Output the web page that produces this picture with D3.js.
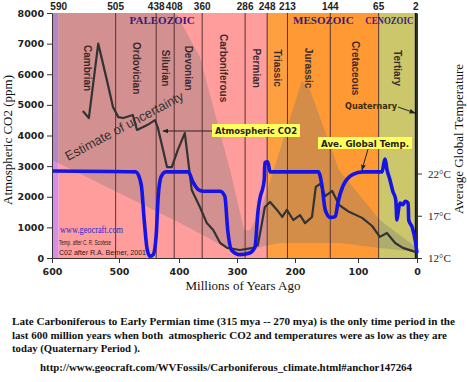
<!DOCTYPE html>
<html>
<head>
<meta charset="utf-8">
<script src="https://cdn.jsdelivr.net/npm/d3@7"></script>
<style>
  body { margin: 0; background: #fff; }
  svg { display: block; }
</style>
</head>
<body>
<svg id="chart" width="467" height="382"></svg>
<script>

// ---- data ----
var ageTicks = [600, 500, 400, 300, 200, 100, 0];
var co2Ticks = [0, 1000, 2000, 3000, 4000, 5000, 6000, 7000, 8000];
var tempTicks = [12, 17, 22];

var boundaries = [590, 505, 438, 408, 360, 286, 248, 213, 144, 65, 2];

var periods = ["Cambrian", "Ordovician", "Silurian", "Devonian", "Carboniferous",
               "Permian", "Triassic", "Jurassic", "Cretaceous", "Tertiary"];
var periodStart = [590, 505, 438, 408, 360, 286, 248, 213, 144, 65];
var periodEnd   = [505, 438, 408, 360, 286, 248, 213, 144, 65, 2];
var periodColor = ["#ff9c9c", "#ff9c9c", "#ff9c9c", "#ff9c9c", "#ff9c9c",
                   "#ff9c9c", "#ffa040", "#ff9933", "#ff9933", "#cbc76a"];

var eras = ["PALEOZOIC", "MESOZOIC", "CENOZOIC"];
var eraLabelAge = [428, 155, 47];

// atmospheric CO2 (ppm), Berner
var co2Age = [554, 545, 531, 518, 509, 501, 493, 477, 470, 453, 440, 435, 420, 412, 402, 390,
              378, 364, 352, 341, 329, 317, 295, 272, 264, 257, 252, 243, 231, 222, 214, 203,
              192, 184, 173, 167, 160, 152, 141, 130, 116, 93, 76, 63, 51, 37, 24, 3];
var co2Ppm = [4800, 4570, 7000, 5800, 4930, 4600, 4570, 4670, 4180, 4340, 4500, 4240, 2970, 2970, 3530, 4080,
              2220, 1665, 1140, 915, 490, 330, 260, 330, 425, 1140, 1665, 1830, 1570, 1340, 1570, 1240,
              1400, 1140, 1340, 2320, 2420, 2020, 2190, 1730, 1530, 1310, 1045, 690, 815, 490, 330, 200];

// estimate of uncertainty band
var bandAge  = [600, 410, 403, 364, 312, 300, 288, 278, 259, 226, 189, 176, 130, 63, 0];
var bandHigh = [8000, 8000, 7930, 6560, 2870, 1900, 915, 900, 1570, 3530, 5800, 5480, 2870, 1240, 330];
var bandLow  = [3200, 1260, 1190, 800, 260, 160, 170, 200, 360, 490, 490, 490, 490, 330, 200];

// average global temperature (deg C), Scotese
var tempAge = [600, 472, 463, 458, 453, 448, 443, 438, 435, 430, 422, 384, 376, 367, 359, 329,
               321, 316, 309, 295, 278, 269, 264, 259, 257, 253, 252, 247, 243, 163, 157, 152,
               144, 136, 132, 124, 108, 92, 59, 56, 54, 51, 46, 41, 36, 34, 32, 29, 24, 20,
               15, 14, 8, 3, 0];
var tempC = [22.3, 22.2, 20.7, 16.5, 13, 12.2, 12.4, 14.7, 18.9, 21.6, 22.2, 22.2, 21, 20.1, 19.9, 19.9,
             19.3, 15.3, 12.9, 12.4, 12.6, 13.3, 17.4, 19.5, 19.9, 21.3, 23.3, 23.4, 22.2, 22.2, 20.5, 17.7,
             16.8, 16.9, 18.5, 20.5, 21.9, 22.2, 22.2, 23.3, 23.7, 22.5, 21.3, 19.9, 18.9, 16.5, 17.4, 18.5, 18.3, 18.7,
             18.5, 16.5, 15.6, 14.1, 12.6];

var caption = [
  "Late Carboniferous to Early Permian time (315 mya -- 270 mya) is the only time period in the",
  "last 600 million years when both  atmospheric CO2 and temperatures were as low as they are",
  "today (Quaternary Period )."
];
var sourceUrl = "http://www.geocraft.com/WVFossils/Carboniferous_climate.html#anchor147264";

// ---- scales ----
var svg = d3.select("#chart");

// the original time axis is not quite even, so piecewise
var x = d3.scaleLinear()
  .domain(ageTicks)
  .range([52, 119, 179, 237, 295, 358, 417]);
var y = d3.scaleLinear().domain([0, 8000]).range([258, 13]);
var yT = d3.scaleLinear().domain([12, 41]).range([258, 13]);

var sans = "DejaVu Sans, Verdana, sans-serif";
var serif = "Liberation Serif, Times New Roman, serif";

svg.append("defs").append("clipPath").attr("id", "plot")
  .append("rect")
    .attr("x", x(600)).attr("y", y(8000))
    .attr("width", x(0) - x(600)).attr("height", y(0) - y(8000));

svg.select("defs").append("marker")
    .attr("id", "arrow")
    .attr("viewBox", "0 0 10 10")
    .attr("refX", 9).attr("refY", 5)
    .attr("markerWidth", 6).attr("markerHeight", 6)
    .attr("orient", "auto")
  .append("path")
    .attr("d", "M0,1 L10,5 L0,9 z")
    .attr("fill", "#222");

// ---- background time bands ----
var bg = svg.append("g").attr("clip-path", "url(#plot)");

bg.append("rect")
  .attr("x", x(600)).attr("y", y(8000))
  .attr("width", x(590) - x(600)).attr("height", y(0) - y(8000))
  .attr("fill", "#d98ee6");

bg.selectAll("rect.period")
  .data(periods)
  .enter()
    .append("rect")
    .attr("class", "period")
    .attr("x", function(d, i) { return x(periodStart[i]); })
    .attr("y", y(8000))
    .attr("width", function(d, i) { return x(periodEnd[i]) - x(periodStart[i]) + 0.5; })
    .attr("height", y(0) - y(8000))
    .attr("fill", function(d, i) { return periodColor[i]; });

bg.append("rect")
  .attr("x", x(2)).attr("y", y(8000))
  .attr("width", x(0) - x(2)).attr("height", y(0) - y(8000))
  .attr("fill", "#cbc76a");

var band = d3.area()
  .x(function(d, i) { return x(bandAge[i]); })
  .y0(function(d, i) { return y(bandLow[i]); })
  .y1(function(d, i) { return y(bandHigh[i]); });

bg.append("path")
  .attr("d", band(bandAge))
  .attr("fill", "#777")
  .attr("fill-opacity", 0.32);

bg.selectAll("line.bound")
  .data(boundaries.slice(1, -1))
  .enter()
    .append("line")
    .attr("class", "bound")
    .attr("x1", function(d) { return x(d); })
    .attr("x2", function(d) { return x(d); })
    .attr("y1", y(8000)).attr("y2", y(0))
    .attr("stroke", "#5a3030")
    .attr("stroke-width", 1);

bg.append("line")
  .attr("x1", x(2)).attr("x2", x(2))
  .attr("y1", y(8000)).attr("y2", y(0))
  .attr("stroke", "#111")
  .attr("stroke-width", 2);

// ---- period & era labels ----
svg.append("g").selectAll("text")
  .data(periods)
  .enter()
    .append("text")
    .attr("transform", function(d, i) {
      return "translate(" + x((periodStart[i] + periodEnd[i]) / 2) + "," + y(6200) + ") rotate(90)";
    })
    .attr("text-anchor", "middle")
    .attr("dy", "0.35em")
    .style("font", "bold 10px Liberation Sans, Arial, sans-serif")
    .attr("fill", "#3b2a2a")
    .text(function(d) { return d; });

svg.append("g").selectAll("text")
  .data(eras)
  .enter()
    .append("text")
    .attr("x", function(d, i) { return x(eraLabelAge[i]); })
    .attr("y", 24)
    .attr("text-anchor", "middle")
    .style("font", "bold 11px " + serif)
    .attr("fill", "#3a1a78")
    .attr("textLength", function(d, i) { return i === 2 ? 48 : null; })
    .attr("lengthAdjust", "spacingAndGlyphs")
    .text(function(d) { return d; });

svg.append("g").selectAll("text")
  .data(boundaries)
  .enter()
    .append("text")
    .attr("x", function(d) { return x(d); })
    .attr("y", 10)
    .attr("text-anchor", "middle")
    .style("font", "bold 10px Liberation Sans, Arial, sans-serif")
    .attr("fill", "#222")
    .text(function(d) { return d; });

svg.append("text")
  .attr("transform", "translate(68,161) rotate(-28)")
  .style("font", "13px Liberation Sans, Arial, sans-serif")
  .attr("fill", "#333")
  .text("Estimate of uncertainty");

// ---- curves ----
var co2Line = d3.line()
  .x(function(d, i) { return x(co2Age[i]); })
  .y(function(d) { return y(d); });

svg.append("path")
  .attr("d", co2Line(co2Ppm))
  .attr("fill", "none")
  .attr("stroke", "#333")
  .attr("stroke-width", 2.2)
  .attr("stroke-linejoin", "round");

var tempLine = d3.line()
  .x(function(d, i) { return x(tempAge[i]); })
  .y(function(d) { return yT(d); })
  .curve(d3.curveMonotoneX);

svg.append("path")
  .attr("d", tempLine(tempC))
  .attr("fill", "none")
  .attr("stroke", "#1414e6")
  .attr("stroke-width", 3.6)
  .attr("stroke-linejoin", "round");

// ---- callouts ----
svg.append("rect")
  .attr("x", 212).attr("y", 124).attr("width", 88).attr("height", 13)
  .attr("fill", "#ffff5e");
svg.append("text")
  .attr("x", 256).attr("y", 134)
  .attr("text-anchor", "middle")
  .style("font", "bold 9.5px " + sans)
  .attr("fill", "#222")
  .attr("textLength", 82).attr("lengthAdjust", "spacingAndGlyphs")
  .text("Atmospheric CO2");
svg.append("line")
  .attr("x1", 212).attr("y1", 131).attr("x2", 163).attr("y2", 131)
  .attr("stroke", "#222").attr("stroke-width", 1)
  .attr("marker-end", "url(#arrow)");

svg.append("rect")
  .attr("x", 318).attr("y", 137).attr("width", 94).attr("height", 12)
  .attr("fill", "#ffff5e");
svg.append("text")
  .attr("x", 365).attr("y", 146.5)
  .attr("text-anchor", "middle")
  .style("font", "bold 9.5px " + sans)
  .attr("fill", "#222")
  .attr("textLength", 88).attr("lengthAdjust", "spacingAndGlyphs")
  .text("Ave. Global Temp.");
svg.append("line")
  .attr("x1", 368).attr("y1", 149).attr("x2", 362).attr("y2", 170)
  .attr("stroke", "#222").attr("stroke-width", 1)
  .attr("marker-end", "url(#arrow)");

svg.append("text")
  .attr("x", 345).attr("y", 109)
  .style("font", "bold 9.5px " + sans)
  .attr("fill", "#3a2a10")
  .attr("textLength", 52).attr("lengthAdjust", "spacingAndGlyphs")
  .text("Quaternary");
svg.append("line")
  .attr("x1", 398).attr("y1", 107).attr("x2", 415).attr("y2", 113)
  .attr("stroke", "#222").attr("stroke-width", 1)
  .attr("marker-end", "url(#arrow)");

svg.append("text")
  .attr("x", 60).attr("y", 233)
  .style("font", "10px " + serif)
  .attr("fill", "#2a2ad0")
  .attr("textLength", 63).attr("lengthAdjust", "spacingAndGlyphs")
  .text("www.geocraft.com");
svg.append("text")
  .attr("x", 59).attr("y", 245)
  .style("font", "7.5px Liberation Sans, Arial, sans-serif")
  .attr("fill", "#222")
  .attr("textLength", 52).attr("lengthAdjust", "spacingAndGlyphs")
  .text("Temp. after C. R. Scotese");
svg.append("text")
  .attr("x", 59).attr("y", 255)
  .style("font", "7.5px Liberation Sans, Arial, sans-serif")
  .attr("fill", "#222")
  .attr("textLength", 87).attr("lengthAdjust", "spacingAndGlyphs")
  .text("C02 after R.A. Berner, 2001");

// ---- axes ----
var styleAxis = function(g, font) {
  g.selectAll("path, line").attr("stroke", "#333");
  g.selectAll("text").style("font", font).attr("fill", "#222");
};

svg.append("g")
  .attr("transform", "translate(" + x(600) + ",0)")
  .call(d3.axisLeft(y).tickValues(co2Ticks).tickFormat(d3.format("d"))
    .tickSize(5).tickSizeOuter(0).tickPadding(3))
  .call(styleAxis, "bold 9.5px " + sans);

svg.append("g")
  .attr("transform", "translate(0," + y(0) + ")")
  .call(d3.axisBottom(x).tickValues(ageTicks).tickFormat(d3.format("d"))
    .tickSize(5).tickSizeOuter(0).tickPadding(5))
  .call(styleAxis, "bold 9.5px " + sans);

svg.append("g")
  .attr("transform", "translate(" + x(0) + ",0)")
  .call(d3.axisRight(yT).tickValues(tempTicks).tickSize(5).tickSizeOuter(0).tickPadding(6)
    .tickFormat(function(d) { return d + "°C"; }))
  .call(styleAxis, "11px " + serif);

svg.append("text")
  .attr("transform", "translate(12,140) rotate(-90)")
  .attr("text-anchor", "middle")
  .style("font", "13px " + serif)
  .attr("fill", "#111")
  .text("Atmospheric CO2 (ppm)");

svg.append("text")
  .attr("transform", "translate(463,139) rotate(-90)")
  .attr("text-anchor", "middle")
  .style("font", "13px " + serif)
  .attr("fill", "#111")
  .text("Average Global Temperature");

svg.append("text")
  .attr("x", 243).attr("y", 290)
  .attr("text-anchor", "middle")
  .style("font", "13px " + serif)
  .attr("fill", "#111")
  .text("Millions of Years Ago");

// ---- caption ----
svg.append("g").selectAll("text")
  .data(caption)
  .enter()
    .append("text")
    .attr("x", 12)
    .attr("y", function(d, i) { return 325 + i * 13.5; })
    .style("font", "bold 11px " + serif)
    .style("white-space", "pre")
    .attr("fill", "#111")
    .attr("textLength", function(d, i) { return [443, 435, 128][i]; })
    .attr("lengthAdjust", "spacingAndGlyphs")
    .text(function(d) { return d; });

svg.append("text")
  .attr("x", 40).attr("y", 371)
  .style("font", "bold 11px " + serif)
  .attr("fill", "#111")
  .attr("textLength", 372).attr("lengthAdjust", "spacingAndGlyphs")
  .text(sourceUrl);

</script>
</body>
</html>
